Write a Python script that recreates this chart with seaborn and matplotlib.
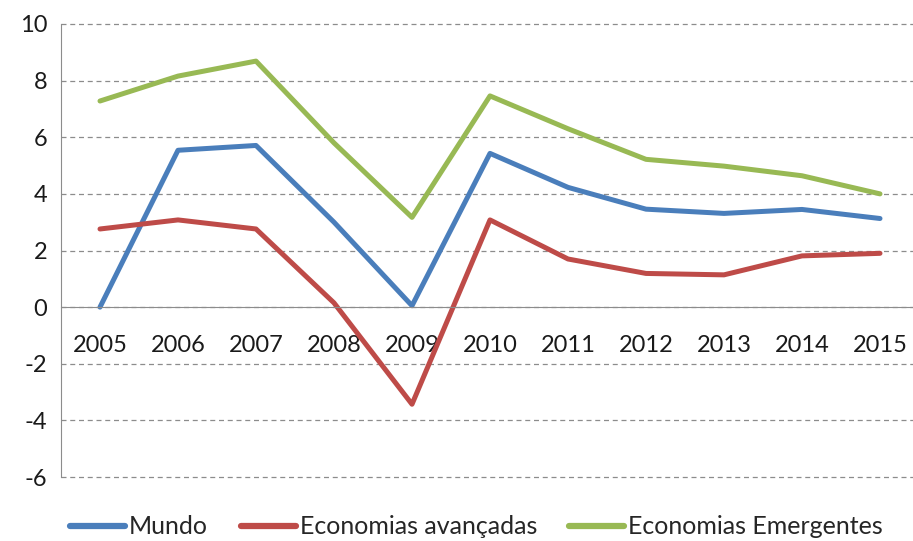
import pandas as pd
import matplotlib.pyplot as plt
import seaborn as sns
from matplotlib.ticker import MultipleLocator

sns.set_style("white")
plt.rcParams['font.family'] = ['Lato', 'DejaVu Sans']
plt.rcParams['axes.unicode_minus'] = False

# dados
anos = [2005, 2006, 2007, 2008, 2009, 2010, 2011, 2012, 2013, 2014, 2015]
mundo = [0.0, 5.54, 5.71, 3.0, 0.05, 5.43, 4.23, 3.46, 3.31, 3.45, 3.13]
avancadas = [2.76, 3.08, 2.76, 0.15, -3.43, 3.08, 1.70, 1.19, 1.14, 1.81, 1.90]
emergentes = [7.28, 8.16, 8.69, 5.8, 3.17, 7.46, 6.3, 5.22, 4.98, 4.64, 4.0]

series = ["Mundo", "Economias avançadas", "Economias Emergentes"]
cores = ["#4A7EBB", "#BE4B48", "#98B954"]

df = pd.DataFrame({"ano": anos, series[0]: mundo, series[1]: avancadas, series[2]: emergentes})
df_long = df.melt(id_vars="ano", var_name="serie", value_name="valor")

fig = plt.figure(figsize=(9.13, 5.41), dpi=100)
ax = fig.add_axes([61 / 913, 1 - 477 / 541, 858 / 913, (477 - 24) / 541])

sns.lineplot(data=df_long, x="ano", y="valor", hue="serie", hue_order=series,
             palette=cores, linewidth=3.6, ax=ax, legend=False)

ax.set_xlim(2004.5, 2015.5)
ax.set_ylim(-6, 10)
ax.yaxis.set_major_locator(MultipleLocator(2))
ax.grid(axis="y", linestyle=(0, (4, 3)), color="#8c8c8c", linewidth=0.9)
ax.set_axisbelow(True)
for gl in ax.get_ygridlines():
    gl.set_clip_on(False)

for s in ["top", "right"]:
    ax.spines[s].set_visible(False)
ax.spines["left"].set_color("#8c8c8c")
ax.spines["bottom"].set_color("#8c8c8c")
ax.spines["bottom"].set_position(("data", 0))

ax.set_xticks(anos)
ax.set_xticklabels([str(a) for a in anos])
ax.set_xticks([a + 0.5 for a in anos[:-1]] + [2004.5], minor=True)
ax.tick_params(axis="x", which="major", length=0, pad=20, labelsize=17, colors="#1a1a1a")
ax.tick_params(axis="x", which="minor", length=7, direction="out", color="#8c8c8c")
ax.tick_params(axis="y", length=6, direction="out", color="#8c8c8c", labelsize=17,
               labelcolor="#1a1a1a", pad=4)
ax.set_xlabel("")
ax.set_ylabel("")

handles = [plt.Line2D([], [], color=c, linewidth=4.5) for c in cores]
fig.legend(handles, series, loc="center", bbox_to_anchor=(0.522, 0.026), ncol=3,
           frameon=False, fontsize=18, handlelength=2.2, handletextpad=0.16,
           columnspacing=1.3)

fig.savefig("out.png", dpi=100)
